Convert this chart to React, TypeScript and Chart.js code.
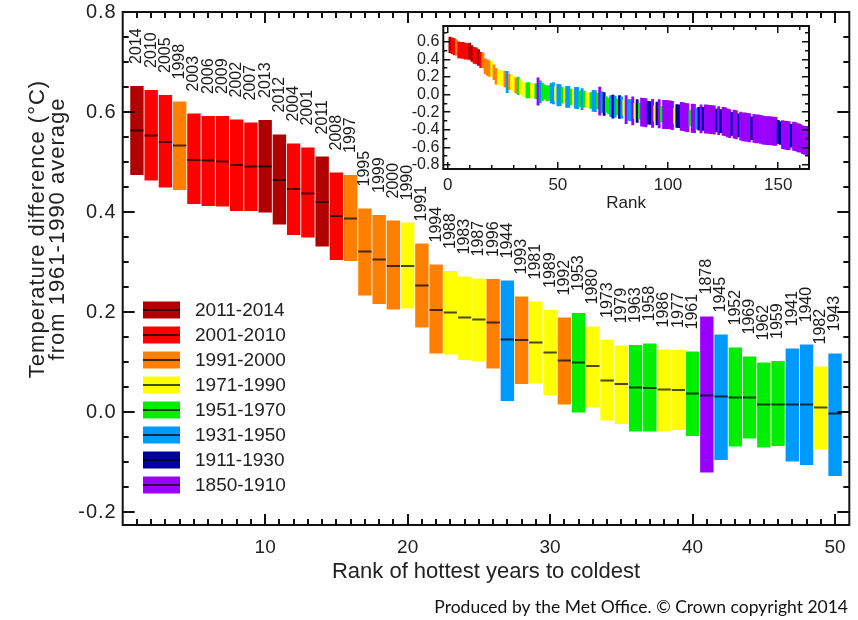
import React, { useEffect, useRef } from 'react';
import { Chart, registerables } from 'chart.js';
Chart.register(...registerables);

const FONT = '"Liberation Sans", Arial, Helvetica, sans-serif';

// ---- Main chart: 50 hottest years, in rank order ----
const years = [2014, 2010, 2005, 1998, 2003, 2006, 2009, 2002, 2007, 2013, 2012, 2004, 2001, 2011, 2008, 1997, 1995, 1999, 2000, 1990,
  1991, 1994, 1988, 1983, 1987, 1996, 1944, 1993, 1981, 1989, 1992, 1953, 1980, 1973, 1979, 1963, 1958, 1986, 1977, 1961,
  1878, 1945, 1952, 1969, 1962, 1959, 1941, 1940, 1982, 1943];
const medians = [0.563, 0.553, 0.540, 0.533, 0.504, 0.503, 0.501, 0.494, 0.491, 0.491, 0.464, 0.446, 0.437, 0.420, 0.392, 0.387, 0.321, 0.305, 0.292, 0.292,
  0.253, 0.204, 0.199, 0.189, 0.185, 0.179, 0.145, 0.144, 0.139, 0.119, 0.103, 0.099, 0.092, 0.063, 0.056, 0.049, 0.048, 0.045, 0.044, 0.037,
  0.033, 0.031, 0.029, 0.029, 0.015, 0.015, 0.015, 0.015, 0.009, -0.003];
const lows = [0.474, 0.463, 0.449, 0.444, 0.416, 0.412, 0.411, 0.402, 0.402, 0.399, 0.375, 0.354, 0.349, 0.331, 0.304, 0.302, 0.233, 0.216, 0.205, 0.207,
  0.169, 0.117, 0.115, 0.104, 0.101, 0.087, 0.022, 0.056, 0.057, 0.034, 0.015, -0.001, 0.009, -0.017, -0.024, -0.039, -0.039, -0.039, -0.036, -0.048,
  -0.121, -0.096, -0.069, -0.053, -0.071, -0.068, -0.099, -0.106, -0.075, -0.128];
const highs = [0.652, 0.644, 0.634, 0.621, 0.597, 0.592, 0.592, 0.585, 0.579, 0.584, 0.555, 0.537, 0.529, 0.511, 0.479, 0.474, 0.407, 0.394, 0.383, 0.379,
  0.337, 0.295, 0.282, 0.271, 0.267, 0.266, 0.263, 0.231, 0.221, 0.204, 0.189, 0.198, 0.171, 0.144, 0.133, 0.134, 0.137, 0.125, 0.124, 0.121,
  0.191, 0.155, 0.129, 0.111, 0.099, 0.102, 0.127, 0.135, 0.091, 0.117];

// ---- Eras (legend) ----
const eraLabels = ['2011-2014', '2001-2010', '1991-2000', '1971-1990', '1951-1970', '1931-1950', '1911-1930', '1850-1910'];
const eraStarts = [2011, 2001, 1991, 1971, 1951, 1931, 1911, 1850];
const eraColors = ['#B00000', '#FF0000', '#FF8000', '#FFFF00', '#00EE00', '#0099FF', '#0000A0', '#9900FF'];
const eraHalfRange = [0.09, 0.09, 0.09, 0.085, 0.09, 0.12, 0.13, 0.16];

// ---- Inset: ranks 51-165 ----
const restYears = [1938, 1957, 1984, 1937, 1942, 1970, 1985, 1947, 1948, 1960,
  1939, 1951, 1978, 1972, 1966, 1946, 1949, 1967, 1877, 1931,
  1926, 1968, 1954, 1934, 1930, 1932, 1965, 1915, 1936, 1975,
  1889, 1950, 1935, 1896, 1971, 1921, 1955, 1881, 1900, 1897,
  1928, 1927, 1882, 1974, 1925, 1851, 1964, 1872, 1880, 1852,
  1879, 1868, 1976, 1914, 1920, 1854, 1866, 1901, 1869, 1956,
  1853, 1855, 1933, 1919, 1870, 1923, 1863, 1865, 1906, 1859,
  1899, 1924, 1883, 1922, 1873, 1888, 1867, 1891, 1918, 1871,
  1860, 1929, 1856, 1886, 1874, 1850, 1905, 1916, 1876, 1885,
  1895, 1875, 1902, 1861, 1884, 1894, 1898, 1890, 1887, 1913,
  1912, 1892, 1857, 1907, 1858, 1917, 1893, 1903, 1910, 1864,
  1908, 1904, 1909, 1862, 1911];
const restMedians = [-0.006, -0.007, -0.014, -0.026, -0.027, -0.027, -0.030, -0.038, -0.039, -0.049,
  -0.052, -0.052, -0.062, -0.065, -0.068, -0.071, -0.074, -0.074, -0.075, -0.087,
  -0.108, -0.113, -0.129, -0.131, -0.137, -0.137, -0.140, -0.141, -0.147, -0.149,
  -0.171, -0.173, -0.178, -0.186, -0.186, -0.187, -0.190, -0.200, -0.203, -0.206,
  -0.206, -0.210, -0.213, -0.214, -0.215, -0.218, -0.223, -0.227, -0.227, -0.228,
  -0.230, -0.238, -0.241, -0.244, -0.247, -0.248, -0.251, -0.259, -0.262, -0.267,
  -0.269, -0.272, -0.273, -0.275, -0.276, -0.276, -0.278, -0.279, -0.283, -0.284,
  -0.289, -0.294, -0.296, -0.302, -0.304, -0.307, -0.321, -0.330, -0.333, -0.335,
  -0.343, -0.350, -0.358, -0.367, -0.368, -0.373, -0.377, -0.383, -0.384, -0.389,
  -0.390, -0.395, -0.402, -0.407, -0.409, -0.410, -0.412, -0.416, -0.418, -0.424,
  -0.437, -0.455, -0.461, -0.465, -0.467, -0.468, -0.473, -0.479, -0.490, -0.494,
  -0.511, -0.520, -0.522, -0.524, -0.544];

// ---- Tick labels ----
const xTicks = [10, 20, 30, 40, 50];
const yTicks = [-0.2, 0.0, 0.2, 0.4, 0.6, 0.8];
const insetXTicks = [0, 50, 100, 150];
const insetYTicks = [0.6, 0.4, 0.2, 0.0, -0.2, -0.4, -0.6, -0.8];

const eraOf = (yr: number) => eraStarts.findIndex((s) => yr >= s);

function hTick(ctx: any, x0: number, y0: number, len: number, w: number) {
  ctx.fillRect(Math.min(x0, x0 + len), Math.round(y0 - w / 2), Math.abs(len), w);
}
function vTick(ctx: any, x0: number, y0: number, len: number, w: number) {
  ctx.fillRect(Math.round(x0 - w / 2), Math.min(y0, y0 + len), w, Math.abs(len));
}

const mainDecor = {
  id: 'mainDecor',
  afterDatasetsDraw(chart: any) {
    const { ctx, scales } = chart;
    const x = scales.x, y = scales.y;
    ctx.save();
    ctx.font = `16px ${FONT}`;
    ctx.fillStyle = '#1a1a1a';
    ctx.textAlign = 'left';
    ctx.textBaseline = 'middle';
    years.forEach((yr, i) => {
      const px = x.getPixelForValue(i + 1);
      const py = y.getPixelForValue(highs[i]) - 22;
      ctx.save();
      ctx.translate(px, py);
      ctx.rotate(-Math.PI / 2);
      ctx.fillText(String(yr), 0, 0);
      ctx.restore();
    });
    ctx.restore();
  },
  afterDraw(chart: any) {
    const { ctx, chartArea: a, scales } = chart;
    const x = scales.x, y = scales.y;
    ctx.save();
    ctx.strokeStyle = '#111111';
    ctx.lineWidth = 2;
    ctx.strokeRect(a.left, a.top, a.right - a.left, a.bottom - a.top);
    ctx.fillStyle = '#111111';
    for (let r = 1; r <= 50; r++) {
      const px = x.getPixelForValue(r);
      const len = r % 10 === 0 ? 11 : 6;
      vTick(ctx, px, a.bottom, -len, 2);
      vTick(ctx, px, a.top, len, 2);
    }
    for (let k = -4; k <= 15; k++) {
      const py = y.getPixelForValue(k * 0.05);
      const len = k % 4 === 0 ? 12 : 6;
      hTick(ctx, a.left, py, len, 2);
      hTick(ctx, a.right, py, -len, 2);
    }

    ctx.fillStyle = '#222';
    ctx.font = `19px ${FONT}`;
    ctx.textAlign = 'center';
    ctx.textBaseline = 'middle';
    xTicks.forEach((t) => ctx.fillText(String(t), x.getPixelForValue(t), a.bottom + 23));
    ctx.font = `20px ${FONT}`;
    ctx.textAlign = 'right';
    (ctx as any).letterSpacing = '1px';
    yTicks.forEach((t) => ctx.fillText(t.toFixed(1), a.left - 6, y.getPixelForValue(t)));

    ctx.font = `22px ${FONT}`;
    (ctx as any).letterSpacing = '0px';
    ctx.textAlign = 'center';
    ctx.fillText('Rank of hottest years to coldest', (a.left + a.right) / 2, 572);
    ctx.save();
    ctx.translate(38, 229);
    ctx.rotate(-Math.PI / 2);
    (ctx as any).letterSpacing = '1px';
    ctx.fillText('Temperature difference (°C)', 0, 0);
    ctx.fillText('from 1961-1990 average', 0, 20);
    ctx.restore();
    (ctx as any).letterSpacing = '0px';

    // legend
    ctx.font = `19px ${FONT}`;
    ctx.textAlign = 'left';
    eraLabels.forEach((lab, i) => {
      const cy = 310 + i * 25;
      ctx.fillStyle = eraColors[i];
      ctx.fillRect(143, cy - 8.5, 37, 17);
      ctx.fillStyle = 'rgba(0,0,0,0.7)';
      ctx.fillRect(143, cy - 1, 37, 2);
      ctx.fillStyle = '#222';
      ctx.fillText(lab, 195, cy + 1);
    });

    ctx.font = `17.5px Lato, "Open Sans", sans-serif`;
    ctx.textAlign = 'right';
    ctx.fillStyle = '#111';
    ctx.fillText('Produced by the Met Office. © Crown copyright 2014', 848, 607);
    ctx.restore();
  },
};

const insetDecor = {
  id: 'insetDecor',
  afterDraw(chart: any) {
    const { ctx, chartArea: a, scales } = chart;
    const x = scales.x, y = scales.y;
    ctx.save();
    ctx.strokeStyle = '#111111';
    ctx.lineWidth = 2;
    ctx.strokeRect(a.left, a.top, a.right - a.left, a.bottom - a.top);
    ctx.fillStyle = '#111111';
    for (let r = 0; r <= 160; r += 10) {
      const px = x.getPixelForValue(r);
      const len = r % 50 === 0 ? 7 : 4;
      vTick(ctx, px, a.bottom, -len, 1.5);
      vTick(ctx, px, a.top, len, 1.5);
    }
    for (let k = -8; k <= 7; k++) {
      const py = y.getPixelForValue(k * 0.1);
      const len = k % 2 === 0 ? 7 : 4;
      hTick(ctx, a.left, py, len, 1.5);
      hTick(ctx, a.right, py, -len, 1.5);
    }
    ctx.fillStyle = '#222';
    ctx.font = `16px ${FONT}`;
    ctx.textAlign = 'right';
    ctx.textBaseline = 'middle';
    insetYTicks.forEach((t) => ctx.fillText(t.toFixed(1), a.left - 4, y.getPixelForValue(t)));
    ctx.font = `17px ${FONT}`;
    ctx.textAlign = 'center';
    insetXTicks.forEach((t) => ctx.fillText(String(t), x.getPixelForValue(t), a.bottom + 16));
    ctx.fillText('Rank', (a.left + a.right) / 2, a.bottom + 34);
    ctx.restore();
  },
};

export default function App() {
  const mainRef = useRef<HTMLCanvasElement>(null);
  const insetRef = useRef<HTMLCanvasElement>(null);

  useEffect(() => {
    const barData = years.map((yr, i) => ({ x: i + 1, y: [lows[i], highs[i]] }));
    const barColors = years.map((yr) => eraColors[eraOf(yr)]);
    const medData = medians.map((m, i) => ({ x: i + 1, y: m }));

    const main = new Chart(mainRef.current!, {
      type: 'bar',
      data: {
        datasets: [
          {
            type: 'scatter',
            data: medData,
            pointStyle: 'line',
            pointRadius: 6.7,
            pointHoverRadius: 6.7,
            borderColor: 'rgba(0,0,0,0.7)',
            pointBorderColor: 'rgba(0,0,0,0.7)',
            borderWidth: 2,
            pointBorderWidth: 2,
            order: 0,
          } as any,
          {
            type: 'bar',
            data: barData as any,
            backgroundColor: barColors,
            borderWidth: 0,
            barPercentage: 0.94,
            categoryPercentage: 1,
            grouped: false,
            order: 1,
          } as any,
        ],
      },
      options: {
        animation: false,
        responsive: false,
        maintainAspectRatio: false,
        layout: { padding: { left: 122.7, right: 7.3, top: 12, bottom: 95 } },
        scales: {
          x: { type: 'linear', min: 0, max: 51, offset: false, display: false },
          y: { type: 'linear', min: -0.226, max: 0.8, display: false },
        },
        plugins: { legend: { display: false }, tooltip: { enabled: false } },
      },
      plugins: [mainDecor],
    });

    const allYears = years.concat(restYears);
    const insetBars = allYears.map((yr, i) => {
      if (i < years.length) return { x: i + 1, y: [lows[i], highs[i]] };
      const m = restMedians[i - years.length];
      const h = eraHalfRange[eraOf(yr)];
      return { x: i + 1, y: [m - h, m + h] };
    });
    const insetColors = allYears.map((yr) => eraColors[eraOf(yr)]);

    const inset = new Chart(insetRef.current!, {
      type: 'bar',
      data: {
        datasets: [
          {
            data: insetBars as any,
            backgroundColor: insetColors,
            borderWidth: 0,
            barPercentage: 1,
            categoryPercentage: 1,
          },
        ],
      },
      options: {
        animation: false,
        responsive: false,
        maintainAspectRatio: false,
        layout: { padding: { left: 443.3, right: 49, top: 26, bottom: 451 } },
        scales: {
          x: { type: 'linear', min: -2, max: 164, offset: false, display: false },
          y: { type: 'linear', min: -0.845, max: 0.778, display: false },
        },
        plugins: { legend: { display: false }, tooltip: { enabled: false } },
      },
      plugins: [insetDecor],
    });

    return () => {
      main.destroy();
      inset.destroy();
    };
  }, []);

  return (
    <div style={{ position: 'fixed', left: 0, top: 0, width: 858, height: 620, background: '#fff' }}>
      <canvas ref={mainRef} width={858} height={620} style={{ position: 'absolute', left: 0, top: 0, width: 858, height: 620 }} />
      <canvas ref={insetRef} width={858} height={620} style={{ position: 'absolute', left: 0, top: 0, width: 858, height: 620, pointerEvents: 'none' }} />
    </div>
  );
}
